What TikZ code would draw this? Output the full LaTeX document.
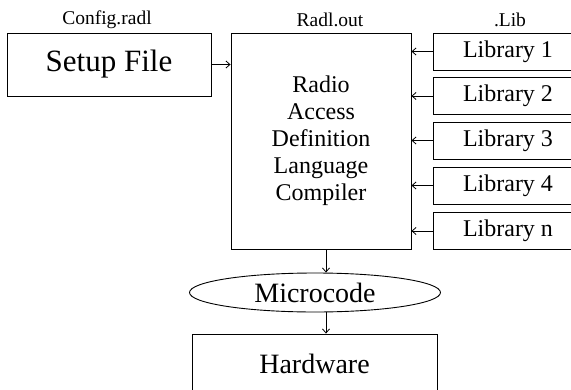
\documentclass[tikz,border=0pt]{standalone}
\usepackage{fontspec}
\setmainfont{Liberation Serif}
\usetikzlibrary{arrows.meta,shapes.geometric}

\begin{document}
\begin{tikzpicture}[x=1pt,y=-1pt,
  box/.style={draw,line width=0.9pt,rectangle,inner sep=0pt},
  tag/.style={font=\rmfamily\fontsize{19.5}{22}\selectfont},
  arr/.style={line width=0.8pt,-{Straight Barb[length=4pt,width=7pt]}}]
\useasboundingbox (0,0) rectangle (571,389);

\node [box,minimum width=204pt,minimum height=63pt,font=\rmfamily\fontsize{31}{36}\selectfont] (setup) at (109,64.5) {Setup File};
\node [tag] (cfg) at (107,20) {Config.radl};

\node [box,minimum width=180pt,minimum height=216pt,align=center,font=\rmfamily\fontsize{24}{27}\selectfont] (radl) at (321,141) {Radio\\Access\\Definition\\Language\\Compiler};
\node [tag] (out) at (330,20) {Radl.out};

\foreach \n/\y in {1/51.5,2/96,3/140.5,4/185.5,n/231} {
\node [box,minimum width=150pt,minimum height=37pt,font=\rmfamily\fontsize{24}{27}\selectfont] (lib\n) at (508,\y) {Library \n};
\draw [arr] (lib\n.west) -- (radl.east |- lib\n.west);
}
\node [tag] (lib) at (510,20) {.Lib};

\draw [arr] (setup.east) -- (radl.west |- setup.east);

\node [draw,line width=0.9pt,ellipse,inner sep=0pt,minimum width=251pt,minimum height=39pt,font=\rmfamily\fontsize{28}{32}\selectfont] (micro) at (315,292.5) {Microcode};
\node [box,minimum width=245pt,minimum height=60pt,font=\rmfamily\fontsize{28}{32}\selectfont] (hw) at (314.5,364) {Hardware};

\coordinate (mid) at ([xshift=5pt]radl.south);
\draw [arr] (mid) -- (mid |- micro.north);
\draw [arr] (micro.south -| mid) -- (hw.north -| mid);

\end{tikzpicture}
\end{document}
